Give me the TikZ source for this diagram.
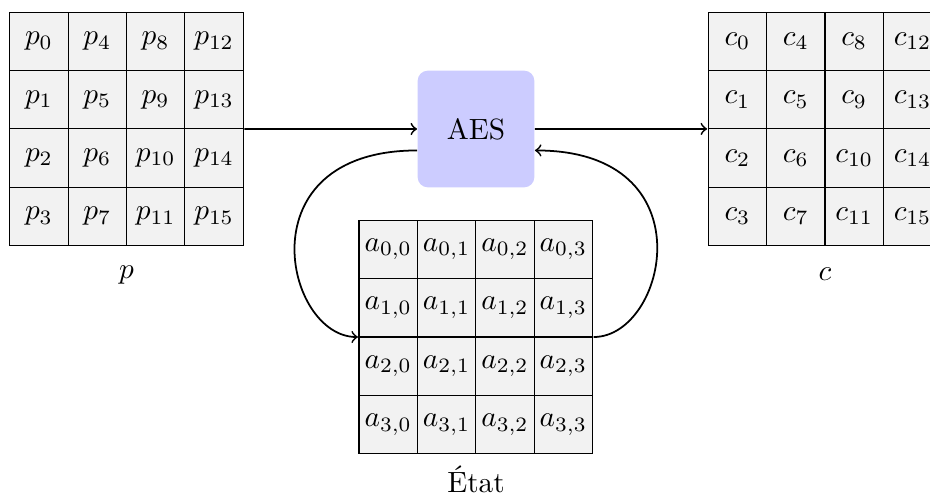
\documentclass[tikz,border=0pt]{standalone}
\usetikzlibrary{matrix}
\tikzset{
  cellmat/.style={matrix of math nodes, inner sep=0pt,
    column sep=-\pgflinewidth, row sep=-\pgflinewidth,
    nodes={draw, fill=gray!10, minimum width=0.7cm, minimum height=0.7cm,
      inner sep=0pt, anchor=center}},
  aesbox/.style={fill=blue!20, rounded corners=3.5pt, minimum width=1.4cm,
    minimum height=1.4cm, inner sep=0pt},
  conn/.style={->, semithick},
  lbl/.style={anchor=base, inner sep=0pt}
}
\begin{document}
\begin{tikzpicture}[x=0.012cm, y=-0.012cm]
\useasboundingbox (0,0) rectangle (930,494);
\matrix (P) at (126.5,128.9) [cellmat] {
  p_0 & p_4 & p_8 & p_{12} \\
  p_1 & p_5 & p_9 & p_{13} \\
  p_2 & p_6 & p_{10} & p_{14} \\
  p_3 & p_7 & p_{11} & p_{15} \\
};
\matrix (C) at (825,128.9) [cellmat] {
  c_0 & c_4 & c_8 & c_{12} \\
  c_1 & c_5 & c_9 & c_{13} \\
  c_2 & c_6 & c_{10} & c_{14} \\
  c_3 & c_7 & c_{11} & c_{15} \\
};
\matrix (S) at (475.8,337) [cellmat] {
  a_{0,0} & a_{0,1} & a_{0,2} & a_{0,3} \\
  a_{1,0} & a_{1,1} & a_{1,2} & a_{1,3} \\
  a_{2,0} & a_{2,1} & a_{2,2} & a_{2,3} \\
  a_{3,0} & a_{3,1} & a_{3,2} & a_{3,3} \\
};
\node[aesbox] (AES) at (476,129) {AES};
\node[lbl] (pl) at (126.5,278) {$p$};
\node[lbl] (cl) at (825,280) {$c$};
\node[lbl] (sl) at (476,492) {État};
\draw[conn] (P.east) -- (AES.west);
\draw[conn] (AES.east) -- (C.west);
\draw[conn] (AES.200) .. controls +(-174,0) and +(-73,0) .. (S.west);
\draw[conn] (S.east) .. controls +(73,0) and +(174,0) .. (AES.340);
\end{tikzpicture}
\end{document}
